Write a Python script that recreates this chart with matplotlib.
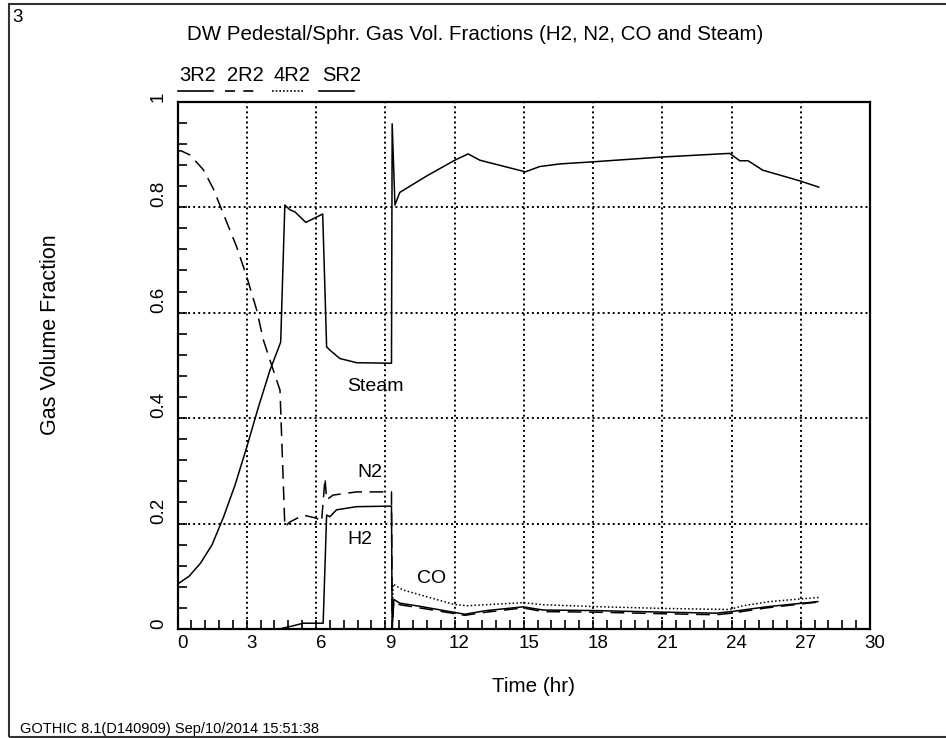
import matplotlib
matplotlib.use("Agg")
import matplotlib.pyplot as plt
import matplotlib.transforms as mtransforms
from matplotlib.patches import Rectangle
from matplotlib.lines import Line2D
import numpy as np

plt.rcParams['font.family'] = ['Liberation Sans', 'DejaVu Sans']

# ---- data (time in hr, volume fraction) ----
steam_t = [0.0, 0.5, 1.0, 1.5, 2.0, 2.5, 3.0, 3.5, 4.0, 4.47, 4.65, 4.87, 5.09, 5.56,
           6.29, 6.46, 6.60, 7.03, 7.76, 9.27, 9.30, 9.42, 9.63, 10.79, 12.01, 12.59, 13.1,
           15.07, 15.69, 16.56, 18.0, 20.96, 23.92, 24.36, 24.72, 25.36, 26.08, 26.95, 27.78]
steam_v = [0.085, 0.100, 0.125, 0.160, 0.213, 0.274, 0.345, 0.420, 0.490, 0.544, 0.804, 0.795,
           0.791, 0.771, 0.787, 0.535, 0.529, 0.513, 0.505, 0.504, 0.958, 0.804, 0.828, 0.859,
           0.889, 0.901, 0.889, 0.867, 0.877, 0.882, 0.886, 0.895, 0.902, 0.888, 0.888, 0.870,
           0.861, 0.850, 0.838]

n2_t = [0.0, 0.15, 0.54, 1.12, 1.55, 1.98, 2.56, 3.0, 3.43, 3.72, 4.15, 4.44, 4.65, 4.87, 5.45,
        6.03, 6.24, 6.39, 6.46, 6.74, 7.76, 9.27, 9.30, 9.37, 9.63, 10.5, 12.45, 13.39, 14.97,
        15.84, 18.0, 21.03, 23.34, 23.99, 25.5, 27.74]
n2_v = [0.906, 0.907, 0.899, 0.871, 0.835, 0.788, 0.725, 0.668, 0.605, 0.548, 0.491, 0.453,
        0.194, 0.203, 0.216, 0.210, 0.203, 0.286, 0.245, 0.254, 0.260, 0.260, 0.0, 0.053,
        0.046, 0.040, 0.026, 0.032, 0.040, 0.033, 0.032, 0.029, 0.027, 0.030, 0.040, 0.051]

h2_t = [4.51, 5.0, 5.45, 6.31, 6.46, 6.60, 6.89, 7.76, 9.27, 9.30, 9.37, 9.63, 10.5, 12.45,
        13.39, 14.97, 15.84, 18.0, 21.03, 23.34, 23.99, 25.5, 27.74]
h2_v = [0.001, 0.006, 0.011, 0.011, 0.216, 0.213, 0.226, 0.232, 0.233, 0.0, 0.056, 0.049,
        0.043, 0.028, 0.035, 0.042, 0.036, 0.035, 0.032, 0.030, 0.033, 0.042, 0.052]

co_t = [9.30, 9.34, 9.77, 11.94, 12.52, 14.97, 15.84, 18.43, 21.03, 23.92, 24.49, 25.65, 27.81]
co_v = [0.0, 0.085, 0.074, 0.047, 0.044, 0.050, 0.046, 0.042, 0.039, 0.037, 0.044, 0.052, 0.060]

legend_names = ['3R2', '2R2', '4R2', 'SR2']
curve_labels = ['Steam', 'N2', 'H2', 'CO']
x_major = [0, 3, 6, 9, 12, 15, 18, 21, 24, 27, 30]
y_major = [0, 0.2, 0.4, 0.6, 0.8, 1]
y_major_labels = ['0', '0.2', '0.4', '0.6', '0.8', '1']

W, H = 946, 738
fig = plt.figure(figsize=(W / 100, H / 100), dpi=100)

def fx(px):
    return px / W

def fy(py):
    return 1 - py / H

ax = fig.add_axes([fx(177.5), fy(629), fx(870) - fx(177.5), fy(101.7) - fy(629)])

lw = 1.1
ax.plot(h2_t, h2_v, color='black', lw=lw, ls='-')
ax.plot(n2_t, n2_v, color='black', lw=lw, ls=(0, (9, 5)))
ax.plot(co_t, co_v, color='black', lw=lw, ls=(0, (1, 1.5)))
ax.plot(steam_t, steam_v, color='black', lw=lw, ls='-')

ax.set_xlim(0, 30)
ax.set_ylim(0, 1)

ax.set_xticks(x_major)
ax.set_xticks(np.arange(0, 30.01, 0.6), minor=True)
ax.set_yticks(y_major)
ax.set_yticks(np.arange(0, 1.001, 0.04), minor=True)
ax.set_yticklabels(y_major_labels, rotation=90, va='bottom', ha='right')

ax.tick_params(which='both', direction='in', length=6.5, width=1.2, color='black',
               top=False, right=False)
ax.tick_params(axis='x', which='major', pad=4, labelsize=13.5)
ax.tick_params(axis='y', which='major', pad=7.5, labelsize=13.5)

offset = mtransforms.ScaledTranslation(5 / 100, 0, fig.dpi_scale_trans)
for lab in ax.get_xticklabels():
    lab.set_transform(lab.get_transform() + offset)

for sp in ax.spines.values():
    sp.set_linewidth(1.6)
    sp.set_color('black')

for xv in x_major[1:-1]:
    ax.axvline(xv, color='black', lw=1.4, ls=(0, (1, 1.6)), zorder=0.5)
for yv in y_major[1:-1]:
    ax.axhline(yv, color='black', lw=1.4, ls=(0, (1, 1.6)), zorder=0.5)

# curve labels
ax.text(8.59, 0.460, curve_labels[0], fontsize=14, ha='center', va='center')
ax.text(8.35, 0.297, curve_labels[1], fontsize=14, ha='center', va='center')
ax.text(7.92, 0.169, curve_labels[2], fontsize=14, ha='center', va='center')
ax.text(11.02, 0.095, curve_labels[3], fontsize=14, ha='center', va='center')

# titles and labels
fig.text(fx(475), fy(35), 'DW Pedestal/Sphr. Gas Vol. Fractions (H2, N2, CO and Steam)',
         fontsize=14.8, ha='center', va='center')
fig.text(fx(534), fy(686), 'Time (hr)', fontsize=14.9, ha='center', va='center')
fig.text(fx(50.5), fy(335), 'Gas Volume Fraction', fontsize=15.5, ha='center', va='center',
         rotation=90)
fig.text(fx(12), fy(18), '3', fontsize=13.5, ha='left', va='center')
fig.text(fx(20), fy(729), 'GOTHIC 8.1(D140909) Sep/10/2014 15:51:38', fontsize=10.5,
         ha='left', va='center')

# legend row
leg_text_x = [179, 227, 273, 322]
leg_line = [(178, 213), (225, 258), (272, 304), (319, 354)]
leg_styles = ['-', (0, (6, 5)), (0, (1, 1.2)), '-']
for name, tx, (x0, x1), st in zip(legend_names, leg_text_x, leg_line, leg_styles):
    fig.text(fx(tx), fy(75.5), name, fontsize=14.5, ha='left', va='center')
    fig.add_artist(Line2D([fx(x0), fx(x1)], [fy(91), fy(91)], color='black', lw=1.2, ls=st,
                          transform=fig.transFigure))

# figure border
fig.add_artist(Rectangle((fx(9), fy(737)), fx(960) - fx(9), fy(4) - fy(737),
                         transform=fig.transFigure, fill=False, edgecolor='#333333', lw=1.5))

fig.savefig('out.png', dpi=100)
